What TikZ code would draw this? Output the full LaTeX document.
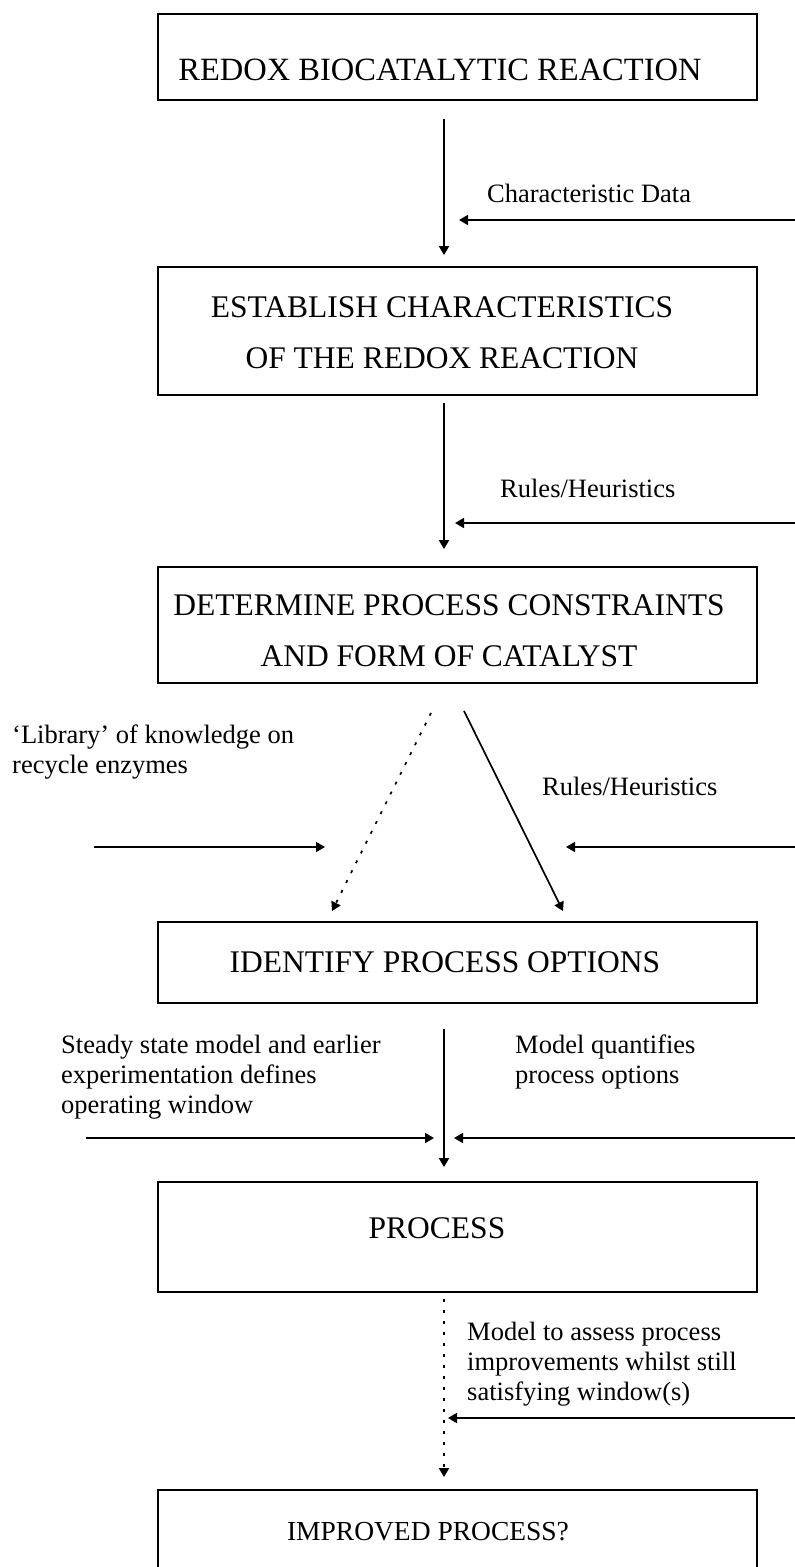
\documentclass[tikz,border=0pt]{standalone}
\usepackage{fontspec}
\setmainfont{Liberation Serif}
\usetikzlibrary{arrows.meta,calc}
\begin{document}
\begin{tikzpicture}[x=1pt,y=-1pt,
  box/.style={draw, line width=1.8pt, minimum width=599pt, inner sep=0pt},
  boxtext/.style={font=\fontsize{31.5}{51}\selectfont, align=center, inner sep=0pt},
  note/.style={font=\fontsize{26.5}{30}\selectfont, align=left, anchor=west, inner sep=0pt},
  arr/.style={line width=1.7pt, -{Triangle[length=9pt,width=10pt]}},
  dotarr/.style={arr, dash pattern=on 3pt off 8pt},
]
\useasboundingbox (0,0) rectangle (795,1567);
\clip (0,0) rectangle (795,1567);

% process boxes
\node[box, minimum height=86pt]  (b1) at (457.5,57)   {};
\node[box, minimum height=128pt] (b2) at (457.5,331)  {};
\node[box, minimum height=116pt] (b3) at (457.5,625)  {};
\node[box, minimum height=81pt]  (b4) at (457.5,962.5) {};
\node[box, minimum height=110pt] (b5) at (457.5,1237) {};
\node[box, minimum height=110pt] (b6) at (457.5,1545) {};

% box captions
\node[boxtext, font=\fontsize{32.5}{51}\selectfont] (t1) at (440,70) {REDOX BIOCATALYTIC REACTION};
\node[boxtext] (t2) at (442,333)  {ESTABLISH CHARACTERISTICS\\OF THE REDOX REACTION};
\node[boxtext] (t3) at (449,631)  {DETERMINE PROCESS CONSTRAINTS\\AND FORM OF CATALYST};
\node[boxtext] (t4) at (445,962)  {IDENTIFY PROCESS OPTIONS};
\node[boxtext] (t5) at (437,1228) {PROCESS};
\node[boxtext, font=\fontsize{27.5}{30}\selectfont] (t6) at (428,1532) {IMPROVED PROCESS?};

% side notes
\node[note] (n1) at (487,193)  {Characteristic Data};
\node[note] (n2) at (500,488)  {Rules/Heuristics};
\node[note] (n3) at (12,752)   {‘Library’ of knowledge on\\recycle enzymes};
\node[note] (n4) at (542,786)  {Rules/Heuristics};
\node[note] (n5) at (61,1077)  {Steady state model and earlier\\experimentation defines\\operating window};
\node[note] (n6) at (515,1062) {Model quantifies\\process options};
\node[note] (n7) at (467,1364) {Model to assess process\\improvements whilst still\\satisfying window(s)};

% main flow
\coordinate (spine) at (444,0);
\draw[arr, shorten <=18pt, shorten >=11pt] (b1.south -| spine) -- (b2.north -| spine);
\draw[arr, shorten <=7pt,  shorten >=17pt] (b2.south -| spine) -- (b3.north -| spine);
\draw[dotarr] ($(b3.south)+(-26.5,29)$) -- ($(b4.north)+(-125.5,-10)$);
\draw[arr]    ($(b3.south)+(6.5,27)$)   -- ($(b4.north)+(105.5,-10)$);
\draw[arr, shorten <=25pt, shorten >=14pt] (b4.south -| spine) -- (b5.north -| spine);
\draw[dotarr, shorten <=6pt, shorten >=12pt] (b5.south -| spine) -- (b6.north -| spine);

% inputs
\coordinate (s1) at (795,220);
\coordinate (s2) at (795,523);
\coordinate (s3) at (795,847);  \coordinate (s3e) at (566,847);
\coordinate (s4) at (94,847);   \coordinate (s4e) at (325,847);
\coordinate (s5) at (86,1138);
\coordinate (s6) at (795,1138);
\coordinate (s7) at (795,1418);
\draw[arr, shorten >=15pt] (s1) -- (s1 -| spine);
\draw[arr, shorten >=11pt] (s2) -- (s2 -| spine);
\draw[arr] (s3) -- (s3e);
\draw[arr] (s4) -- (s4e);
\draw[arr, shorten >=10pt] (s5) -- (s5 -| spine);
\draw[arr, shorten >=10pt] (s6) -- (s6 -| spine);
\draw[arr, shorten >=4pt]  (s7) -- (s7 -| spine);
\end{tikzpicture}
\end{document}
